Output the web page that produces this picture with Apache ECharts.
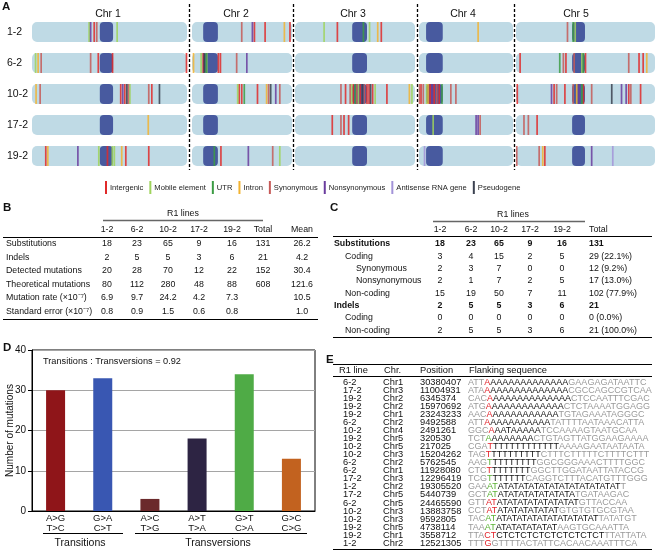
<!DOCTYPE html>
<html><head><meta charset="utf-8">
<script src="https://cdn.jsdelivr.net/npm/echarts@6/dist/echarts.min.js"></script>
<style>html,body{margin:0;padding:0;background:#fff}#c{width:657px;height:551px}</style>
</head><body><div id="c"></div><script>
// ---------- Panel A data ----------
const lines = ['1-2','6-2','10-2','17-2','19-2'];
const chrNames = ['Chr 1','Chr 2','Chr 3','Chr 4','Chr 5'];
const chrLengths = [30.4, 19.7, 23.5, 18.6, 27.0];          // Mb
const centromereStart = [13.3, 2.2, 11.2, 1.4, 10.9];        // Mb
const centromereEnd = [15.9, 5.1, 14.1, 4.7, 13.4];          // Mb
const mutationTypes = ['Intergenic','Mobile element','UTR','Intron','Synonymous','Nonsynonymous','Antisense RNA gene','Pseudogene'];
// [lineIndex, chrIndex, position (Mb), typeIndex]
const mutations = [
 [0,0,11.2,1],[0,0,11.5,5],[0,0,12.2,0],[0,0,12.7,4],[0,0,16.7,1],
 [0,1,9.8,4],[0,1,11.9,5],[0,1,12.3,0],[0,1,14.4,0],[0,1,18.2,3],[0,1,19.3,0],
 [0,2,5.7,1],[0,2,8.3,0],[0,2,13.4,2],[0,2,14.6,1],[0,2,16.2,3],[0,2,16.9,0],
 [0,3,11.7,3],
 [0,4,10.0,4],[0,4,11.1,2],[0,4,11.5,1],
 [1,0,0.7,1],[1,0,1.2,3],[1,0,1.8,4],[1,0,11.5,4],[1,0,13.0,0],[1,0,15.8,0],[1,0,30.3,0],
 [1,1,0.3,3],[1,1,1.8,1],[1,1,2.2,0],[1,1,2.4,7],[1,1,2.8,2],[1,1,2.9,1],[1,1,5.2,0],[1,1,5.6,0],[1,1,8.8,4],[1,1,10.8,5],
 [1,4,0.8,0],[1,4,8.5,2],[1,4,9.2,4],[1,4,9.7,0],[1,4,11.3,4],[1,4,12.8,1],[1,4,13.1,2],[1,4,13.5,0],[1,4,21.9,4],[1,4,23.9,0],[1,4,24.7,0],[1,4,25.4,3],
 [2,0,0.8,3],[2,0,1.6,4],[2,0,17.4,0],[2,0,17.8,5],[2,0,18.2,0],[2,0,18.6,7],[2,0,18.9,4],[2,0,19.2,1],[2,0,22.9,4],[2,0,23.5,0],[2,0,25.0,7],
 [2,1,9.0,1],[2,1,9.3,0],[2,1,9.8,0],[2,1,10.3,2],[2,1,12.9,0],[2,1,14.7,3],[2,1,15.1,4],[2,1,15.5,7],[2,1,16.5,5],[2,1,17.3,4],
 [2,2,9.0,4],[2,2,9.9,0],[2,2,10.8,4],[2,2,11.1,1],[2,2,11.4,0],[2,2,11.8,2],[2,2,12.1,4],[2,2,12.4,1],[2,2,12.8,0],[2,2,13.2,7],[2,2,13.6,4],[2,2,14.1,0],[2,2,14.5,0],[2,2,14.8,7],[2,2,15.2,0],[2,2,15.7,1],[2,2,18.0,0],[2,2,22.4,3],[2,2,22.9,1],
 [2,3,0.1,4],[2,3,0.4,0],[2,3,0.85,4],[2,3,1.5,1],[2,3,1.8,3],[2,3,2.2,0],[2,3,2.6,5],[2,3,3.0,0],[2,3,3.5,4],[2,3,4.0,0],[2,3,4.55,2],[2,3,6.3,4],[2,3,7.3,4],
 [2,4,0.25,0],[2,4,6.9,5],[2,4,7.4,0],[2,4,7.9,4],[2,4,9.5,0],[2,4,11.1,4],[2,4,11.8,3],[2,4,12.2,5],[2,4,12.8,2],[2,4,13.1,0],[2,4,14.7,4],[2,4,18.6,7],[2,4,20.5,5],[2,4,21.4,5],[2,4,21.9,0],[2,4,22.3,4],[2,4,24.2,0],
 [3,0,22.8,3],
 [3,2,7.3,0],[3,2,9.0,4],[3,2,9.6,0],[3,2,10.5,0],
 [3,3,2.8,1],[3,3,11.3,5],[3,3,11.7,5],[3,3,12.1,4],
 [3,4,1.55,4],[3,4,2.4,4],[3,4,4.1,0],
 [4,0,2.7,0],[4,0,3.1,3],[4,0,9.0,5],[4,0,13.1,1],[4,0,14.8,0],[4,0,15.75,1],[4,0,16.15,1],[4,0,17.6,3],[4,0,18.4,0],[4,0,22.9,0],
 [4,1,4.4,2],[4,1,5.7,0],[4,1,11.1,5],[4,1,15.9,4],[4,1,17.3,1],
 [4,3,1.1,6],
 [4,4,0.15,4],[4,4,4.5,4],[4,4,5.2,3],[4,4,5.6,0],[4,4,14.7,5],[4,4,18.8,6]
];

// ---------- Panel B data ----------
const tableBCols = ['1-2','6-2','10-2','17-2','19-2','Total','Mean'];
const tableBRows = ['Substitutions','Indels','Detected mutations','Theoretical mutations','Mutation rate (\u00d710\u207b\u2077)','Standard error (\u00d710\u207b\u2077)'];
const tableBValues = [
 ['18','23','65','9','16','131','26.2'],
 ['2','5','5','3','6','21','4.2'],
 ['20','28','70','12','22','152','30.4'],
 ['80','112','280','48','88','608','121.6'],
 ['6.9','9.7','24.2','4.2','7.3','','10.5'],
 ['0.8','0.9','1.5','0.6','0.8','','1.0']
];

// ---------- Panel C data ----------
const tableCCols = ['1-2','6-2','10-2','17-2','19-2','Total'];
const tableCRows = ['Substitutions','Coding','Synonymous','Nonsynonymous','Non-coding','Indels','Coding','Non-coding'];
const tableCLevel = [0,1,2,2,1,0,1,1];
const tableCValues = [
 ['18','23','65','9','16','131'],
 ['3','4','15','2','5','29 (22.1%)'],
 ['2','3','7','0','0','12 (9.2%)'],
 ['2','1','7','2','5','17 (13.0%)'],
 ['15','19','50','7','11','102 (77.9%)'],
 ['2','5','5','3','6','21'],
 ['0','0','0','0','0','0 (0.0%)'],
 ['2','5','5','3','6','21 (100.0%)']
];

// ---------- Panel D data ----------
const substitutionClasses = ['A>G\nT>C','G>A\nC>T','A>C\nT>G','A>T\nT>A','G>T\nC>A','G>C\nC>G'];
const substitutionCounts = [30, 33, 3, 18, 34, 13];
const ratioText = 'Transitions : Transversions = 0.92';

// ---------- Panel E data ----------
const eLines = ['6-2','17-2','19-2','19-2','19-2','6-2','10-2','19-2','10-2','10-2','6-2','6-2','17-2','1-2','17-2','6-2','10-2','10-2','19-2','19-2','1-2'];
const eChrs = ['Chr1','Chr3','Chr2','Chr2','Chr1','Chr2','Chr4','Chr5','Chr5','Chr3','Chr2','Chr1','Chr3','Chr2','Chr5','Chr5','Chr3','Chr3','Chr5','Chr1','Chr2'];
const ePositions = ['30380407','11004931','6345374','15970692','23243233','9492588','2491261','320530','217025','15204262','5762545','11928080','12296419','19305520','5440739','24465590','13883758','9592805','4738114','3558712','12521305'];
const eLeft = ['ATT','ATA','CAC','ATG','AAC','ATT','GGC','TCT','CGA','TAG','AAG','CTC','TCG','GAA','GCT','GTT','CCT','TAC','TAA','TTA','TTT'];
const eMut = ['A','A','A','A','A','A','A','A','T','T','T','T','T','AT','AT','AT','AT','AT','AT','CT','G'];
const eMutKind = ['r','r','r','r','r','r','r','n','r','r','n','r','n','n','n','r','r','n','n','r','r'];
const eRepeat = ['AAAAAAAAAAAAA','AAAAAAAAAAAAA','AAAAAAAAAAAAA','AAAAAAAAAAAA','AAAAAAAAAAA','AAAAAAAAAA','AATAAAAA','AAAAAAA','TTTTTTTTTTTT','TTTTTTTTT','TTTTTTTT','TTTTTTT','TTTTTT','ATATATATATATATATATATATAT','ATATATATATATATA','ATATATATATATATAT','ATATATATATAT','ATATATATATATATATATAT','ATATATATATAT','CTCTCTCTCTCTCTCTCT',''];
const eRight = ['GAAGAGATAATTC','CGCCAGCCGTCAA','CTCCAATTTCGAC','CTCTAAAATGGAGG','TGTAGAAATAGGGC','TATTTTAATAAACATTA','TCCAAAAGTAATGCAA','CTGTAGTTATGGAAGAAAA','AAAAGAATAATAATA','CTTTCTTTTTCTTTTCTTT','GGCGGGAAACTTTTGGC','GGCTTGGATAATTATACCG','CAGGTCTTTACATGTTTGGG','T','TGATAAGAC','GTTACCAA','GTGTGTGCGTAA','TATATGT','AAGTGCAAATTA','TTATTATA','GTTTTACTATTCACAACAAATTTCA'];

// ---------- styles ----------
const FONT = '"Liberation Sans", Arial, Helvetica, sans-serif';
const typeColors = ['#e02a2a','#9fd35c','#3c9c44','#f2b331','#c65a58','#6a3c9e','#a393d8','#3b4150'];
const barColors = ['#8f1519','#3957b2','#6b2a2c','#2d2443','#4fab46','#c2621f'];
const chrPx = [[32,187],[192,292],[295,415],[419,513],[516,655]];
const chrLabelX = [108,236,353,463,576];

const chart = echarts.init(document.getElementById('c'), null, {renderer:'canvas'});
const grids=[], xAxes=[], yAxes=[], series=[];

function bandItem(fill, r){
  return function(p, api){
    const s = api.coord([api.value(0), api.value(1)]);
    const e = api.coord([api.value(2), api.value(1)]);
    const h = api.size([0,1])[1]*0.645;
    return {type:'rect', shape:{x:s[0], y:s[1]-h/2, width:e[0]-s[0], height:h, r:r}, style:{fill:fill}};
  };
}
for (let c=0;c<5;c++){
  grids.push({left:chrPx[c][0], width:chrPx[c][1]-chrPx[c][0], top:16.5, height:155, outerBoundsMode:'none'});
  xAxes.push({type:'value', gridIndex:c, min:0, max:chrLengths[c], show:false});
  yAxes.push({type:'category', gridIndex:c, data:lines, inverse:true,
    axisLine:{show:false}, axisTick:{show:false}, splitLine:{show:false},
    axisLabel:{show:c===0, align:'left', margin:25, fontSize:10.5, color:'#111', fontFamily:FONT}});
  series.push({type:'custom', xAxisIndex:c, yAxisIndex:c, silent:true, z:1,
    data: lines.map((l,i)=>[0,i,chrLengths[c]]), renderItem: bandItem('#bfdae5',5)});
  series.push({type:'custom', xAxisIndex:c, yAxisIndex:c, silent:true, z:2,
    data: lines.map((l,i)=>[centromereStart[c],i,centromereEnd[c]]), renderItem: bandItem('#485a9f',4)});
  mutationTypes.forEach((t,ti)=>{
    series.push({type:'custom', name:t, xAxisIndex:c, yAxisIndex:c, z:3, silent:true,
      itemStyle:{color:typeColors[ti]},
      data: mutations.filter(m=>m[1]===c && m[3]===ti).map(m=>[m[2], m[0]]),
      renderItem:(p,api)=>{
        const s = api.coord([api.value(0), api.value(1)]);
        const h = api.size([0,1])[1]*0.645;
        return {type:'rect', shape:{x:s[0]-0.85, y:s[1]-h/2, width:1.7, height:h}, style:{fill:typeColors[ti], opacity:0.85}};
      }});
  });
}

// Panel D
grids.push({left:32, top:350, width:283, height:161, show:true, borderColor:'#000', borderWidth:1, backgroundColor:'transparent', outerBoundsMode:'none'});
xAxes.push({type:'category', gridIndex:5, data:substitutionClasses,
  axisTick:{show:false}, axisLine:{lineStyle:{color:'#000', width:1}},
  axisLabel:{fontSize:9.5, lineHeight:10.5, color:'#111', fontFamily:FONT, margin:2, interval:0}});
yAxes.push({type:'value', gridIndex:5, min:0, max:40, interval:10,
  name:'Number of mutations', nameLocation:'middle', nameGap:17, nameRotate:90, nameMoveOverlap:false,
  nameTextStyle:{fontSize:10, color:'#111', fontFamily:FONT},
  axisLine:{show:true, lineStyle:{color:'#000', width:1}},
  axisTick:{show:true, length:4, lineStyle:{color:'#000'}},
  axisLabel:{fontSize:10, color:'#111', fontFamily:FONT, margin:6},
  splitLine:{show:true, lineStyle:{color:'#a5a5a5', width:1}}});
series.push({type:'bar', xAxisIndex:5, yAxisIndex:5, barWidth:19, silent:true,
  data: substitutionCounts.map((v,i)=>({value:v, itemStyle:{color:barColors[i]}}))});

// ---------- graphic (texts, tables) ----------
const G = [];
function T(x,y,text,o){
  o = o||{};
  const st = {text:text, fill:o.fill||'#111', fontSize:o.size||9, fontFamily:FONT, fontWeight:o.bold?'bold':'normal',
    align:o.align||'left', textAlign:o.align||'left', verticalAlign:'middle', textVerticalAlign:'middle'};
  if (o.rich) st.rich = o.rich;
  G.push({type:'text', x:x, y:y, silent:true, z:100, style:st});
}
function L(x1,y1,x2,y2,o){
  o=o||{};
  G.push({type:'line', silent:true, z:100, shape:{x1:x1,y1:y1,x2:x2,y2:y2},
    style:{stroke:o.stroke||'#000', lineWidth:o.w||1, lineDash:o.dash||null}});
}
// Panel A
T(2,7,'A',{bold:true,size:11.5});
chrNames.forEach((n,i)=>T(chrLabelX[i],14,n,{align:'center',size:10.5}));
[189.5,293.5,417.5,514.5].forEach(x=>L(x,4,x,170,{dash:[3,2],w:1.3}));

// Panel B
T(3,208,'B',{bold:true,size:11.5});
const bColX = [107,137,168,199,232,263,302];
T(183,214,'R1 lines',{align:'center',size:8.8});
L(103,220.5,263,220.5,{stroke:'#666',w:1.3});
tableBCols.forEach((h,i)=>T(bColX[i],229.5,h,{align:'center',size:8.8}));
L(3,237.5,318,237.5,{w:1});
tableBRows.forEach((r,ri)=>{
  const y = 244 + ri*13.5;
  T(6,y,r,{size:8.8});
  tableBValues[ri].forEach((v,ci)=>T(bColX[ci],y,v,{align:'center',size:8.8}));
});
L(3,319.5,318,319.5,{w:1.2});

// Panel C
T(330,208,'C',{bold:true,size:11.5});
const cColX = [440,471,499,530,562];
T(513,215,'R1 lines',{align:'center',size:8.8});
L(433,221.5,585,221.5,{stroke:'#666',w:1.3});
tableCCols.forEach((h,i)=>{ if(i<5) T(cColX[i],230,h,{align:'center',size:8.8}); else T(589,230,h,{size:8.8}); });
L(333,236.5,652,236.5,{w:1});
tableCRows.forEach((r,ri)=>{
  const y = 244 + ri*12.3;
  const bold = tableCLevel[ri]===0;
  T(334 + tableCLevel[ri]*11, y, r, {size:8.8, bold:bold});
  tableCValues[ri].forEach((v,ci)=>{
    if (ci<5) T(cColX[ci],y,v,{align:'center',size:8.8,bold:bold});
    else T(589,y,v,{size:8.8,bold:bold});
  });
});
L(333,337.5,652,337.5,{w:1.2});

// Panel D extras
T(3,348,'D',{bold:true,size:11.5});
T(43,361,ratioText,{size:9.2});
L(43,533.5,123,533.5,{w:1});
L(135,533.5,307,533.5,{w:1});
T(80,543,'Transitions',{align:'center',size:10.5});
T(218,543,'Transversions',{align:'center',size:10.5});

// Panel E
T(326,360,'E',{bold:true,size:11.5});
L(333,364.5,652,364.5,{w:1.2});
T(339,370.5,'R1 line',{size:9.3});
T(384,370.5,'Chr.',{size:9.3});
T(420,370.5,'Position',{size:9.3});
T(469,370.5,'Flanking sequence',{size:9.3});
L(333,376.5,652,376.5,{w:1});
const seqRich = {
  g:{fill:'#9a9a9a', color:'#9a9a9a', fontSize:9, fontFamily:FONT},
  r:{fill:'#e2232b', color:'#e2232b', fontSize:9, fontFamily:FONT},
  n:{fill:'#5bb234', color:'#5bb234', fontSize:9, fontFamily:FONT},
  k:{fill:'#111', color:'#111', fontSize:9, fontFamily:FONT}
};
eLines.forEach((l,i)=>{
  const y = 382.5 + i*8.03;
  T(343,y,l,{size:9.3});
  T(383,y,eChrs[i],{size:9.3});
  T(420,y,ePositions[i],{size:9.3});
  let s = '{g|'+eLeft[i]+'}{'+eMutKind[i]+'|'+eMut[i]+'}';
  if (eRepeat[i]) s += '{k|'+eRepeat[i]+'}';
  if (eRight[i]) s += '{g|'+eRight[i]+'}';
  T(468,y,s,{size:9,rich:seqRich});
});
L(333,549.5,652,549.5,{w:1.2});

chart.setOption({
  animation:false,
  backgroundColor:'#fff',
  textStyle:{fontFamily:FONT},
  legend:{data:mutationTypes, left:100, top:176, icon:'rect', itemWidth:2, itemHeight:13, itemGap:6,
    selectedMode:false, textStyle:{fontSize:7.6, color:'#222', fontFamily:FONT, padding:[0,0,0,-2]}},
  grid:grids, xAxis:xAxes, yAxis:yAxes, series:series, graphic:{elements:G}
});
</script></body></html>
